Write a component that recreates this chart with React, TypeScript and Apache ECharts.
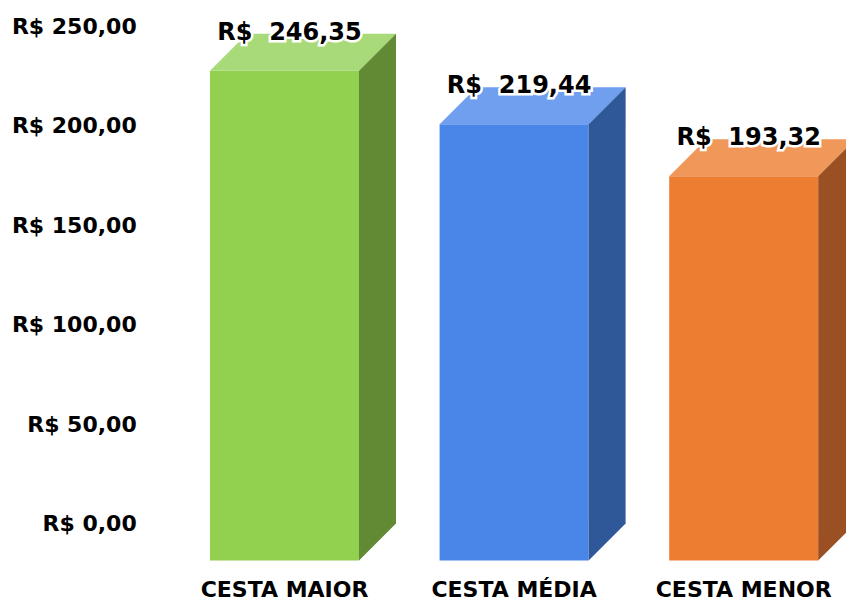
import React, { useEffect, useRef } from "react";
import * as echarts from "echarts";

const categories = ["CESTA MAIOR", "CESTA MÉDIA", "CESTA MENOR"];
const values = [246.35, 219.44, 193.32];
const yMin = 0;
const yMax = 250;
const yStep = 50;

const FRONT = ["#92D050", "#4A86E8", "#ED7D31"];
const TOP = ["#A9DA7A", "#6F9FEE", "#F0985A"];
const SIDE = ["#628A34", "#2F5898", "#9A5022"];

const FONT = "'DejaVu Sans', sans-serif";
const fmt = (v: number) => v.toFixed(2).replace(".", ",");

export default function App() {
  const ref = useRef<HTMLDivElement>(null);
  useEffect(() => {
    const chart = echarts.init(ref.current!, null, { renderer: "svg" });
    const DEPTH = 37;
    const option: any = {
      animation: false,
      grid: {
        left: 169.7,
        top: 26.5,
        width: 688.8,
        height: 497,
        containLabel: false,
        outerBoundsMode: "none",
      },
      xAxis: {
        type: "category",
        data: categories,
        axisLine: { show: false },
        axisTick: { show: false },
        splitLine: { show: false },
        axisLabel: {
          interval: 0,
          hideOverlap: false,
          margin: 57,
          lineHeight: 18,
          fontFamily: FONT,
          fontWeight: "bold",
          fontSize: 22,
          color: "#000",
        },
      },
      yAxis: {
        type: "value",
        min: yMin,
        max: yMax,
        interval: yStep,
        splitLine: { show: false },
        axisLine: { show: false },
        axisTick: { show: false },
        axisLabel: {
          margin: 33,
          formatter: (v: number) => "R$ " + fmt(v),
          fontFamily: FONT,
          fontWeight: "bold",
          fontSize: 22,
          color: "#000",
        },
      },
      series: [
        {
          type: "custom",
          clip: false,
          data: values.map((v, i) => [i, v]),
          renderItem: (params: any, api: any) => {
            const i = api.value(0);
            const v = api.value(1);
            const base = api.coord([i, 0]);
            const topP = api.coord([i, v]);
            const band = api.size([1, 0])[0];
            const w = band * 0.649;
            const cx = base[0];
            const x0 = cx - w / 2;
            const x1 = cx + w / 2;
            const fb = base[1] + DEPTH;
            const ft = topP[1] + DEPTH;
            const D = DEPTH;
            const idx = params.dataIndex;
            return {
              type: "group",
              children: [
                {
                  type: "polygon",
                  shape: { points: [[x0, ft], [x1, ft], [x1, fb], [x0, fb]] },
                  style: { fill: FRONT[idx] },
                },
                {
                  type: "polygon",
                  shape: { points: [[x0, ft], [x0 + D, ft - D], [x1 + D, ft - D], [x1, ft]] },
                  style: { fill: TOP[idx] },
                },
                {
                  type: "polygon",
                  shape: { points: [[x1, ft], [x1 + D, ft - D], [x1 + D, fb - D], [x1, fb]] },
                  style: { fill: SIDE[idx] },
                },
                {
                  type: "text",
                  x: cx + 5,
                  y: topP[1] - 2,
                  style: {
                    text: "R$  " + fmt(v),
                    fill: "#000",
                    stroke: "#fff",
                    lineWidth: 5,
                    fontFamily: FONT,
                    fontWeight: "bold",
                    fontSize: 24,
                    align: "center",
                    verticalAlign: "middle",
                  },
                },
              ],
            };
          },
        },
      ],
    };
    chart.setOption(option);
    return () => chart.dispose();
  }, []);
  return (
    <div
      ref={ref}
      style={{ position: "fixed", left: 0, top: 0, width: 846, height: 604, background: "#fff" }}
    />
  );
}
